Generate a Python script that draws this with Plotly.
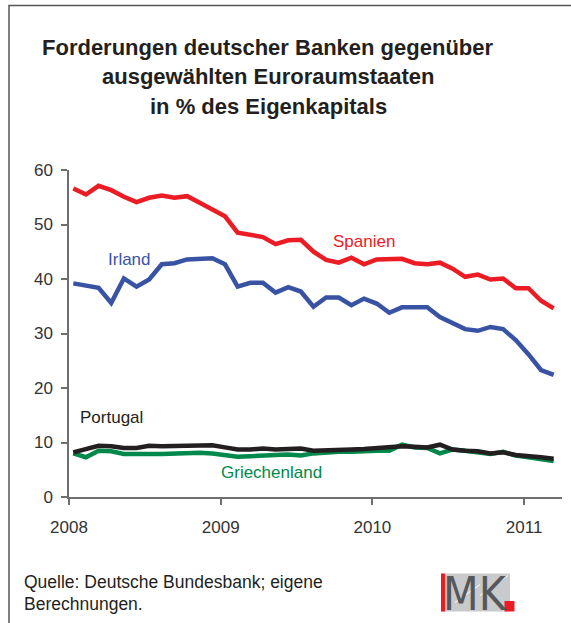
import plotly.graph_objects as go
import pandas as pd

# ---- data ----
monate = pd.date_range("2008-01-01", periods=39, freq="MS")
spanien = [56.6, 55.5, 57.1, 56.3, 55.1, 54.1, 54.9, 55.3, 54.9, 55.2, 54.0, 52.7, 51.5,
           48.5, 48.2, 47.7, 46.4, 47.1, 47.2, 45.0, 43.5, 43.0, 43.9, 42.7, 43.6, 43.7,
           43.7, 42.9, 42.7, 43.0, 41.9, 40.4, 40.8, 39.9, 40.1, 38.3, 38.3, 36.0, 34.6]
irland = [39.2, 38.9, 38.4, 35.6, 40.1, 38.6, 39.9, 42.7, 42.9, 43.6, 43.7, 43.8, 42.7,
          38.6, 39.3, 39.3, 37.5, 38.5, 37.7, 34.9, 36.6, 36.6, 35.2, 36.4, 35.5, 33.8,
          34.8, 34.8, 34.8, 33.0, 31.9, 30.8, 30.5, 31.2, 30.8, 28.8, 26.2, 23.3, 22.4]
portugal = [8.2, 8.8, 9.4, 9.3, 9.0, 9.0, 9.4, 9.3, 9.3, 9.3, 9.4, 9.5, 9.1,
            8.7, 8.7, 8.9, 8.7, 8.7, 8.9, 8.5, 8.5, 8.6, 8.7, 8.8, 9.0, 9.0,
            9.3, 9.2, 9.1, 9.6, 8.7, 8.5, 8.4, 8.0, 8.2, 7.7, 7.6, 7.3, 7.0]
griechenland = [8.0, 7.3, 8.5, 8.4, 7.9, 8.0, 7.9, 7.9, 8.0, 8.1, 8.1, 8.0, 7.8,
                7.4, 7.5, 7.7, 7.7, 7.8, 7.6, 8.0, 8.2, 8.3, 8.3, 8.5, 8.5, 8.5,
                9.6, 9.1, 9.0, 8.0, 8.7, 8.5, 8.3, 7.9, 8.3, 7.6, 7.3, 7.0, 6.6]
x_ticks = [2008, 2009, 2010, 2011]
x_ticklabels = ["2008", "2009", "2010", "2011"]
y_ticks = [0, 10, 20, 30, 40, 50, 60]

title_lines = ["Forderungen deutscher Banken gegenüber",
               "ausgewählten Euroraumstaaten",
               "in % des Eigenkapitals"]
source_lines = ["Quelle: Deutsche Bundesbank; eigene", "Berechnungen."]

# ---- styling ----
RED = "#ec1c24"
BLUE = "#3953a4"
BLACK = "#231f20"
GREEN = "#00894a"
FONT = "Liberation Sans, Arial, sans-serif"

W, H = 571, 623
L, R = 69, 562          # plot area pixels
T, B = 169.7, 497.3

def px(x):
    return (x - L) / (R - L)

def py(y):
    return (B - y) / (B - T)

xv = [d.year + (d.month - 1 + 0.34) / 12 for d in monate]

fig = go.Figure()
for vals, col in [(griechenland, GREEN), (portugal, BLACK), (irland, BLUE), (spanien, RED)]:
    fig.add_trace(go.Scatter(x=xv, y=vals, mode="lines",
                             line=dict(color=col, width=4.5), hoverinfo="skip",
                             showlegend=False))

annotations = []
for i, line in enumerate(title_lines):
    annotations.append(dict(text=f"<b>{line}</b>", x=px(268), y=py(47 + i * 29.5),
                            xref="paper", yref="paper", showarrow=False,
                            font=dict(family=FONT, size=22, color=BLACK),
                            xanchor="center", yanchor="middle"))
for i, line in enumerate(source_lines):
    annotations.append(dict(text=line, x=px(22), y=py(582 + i * 22),
                            xref="paper", yref="paper", showarrow=False,
                            font=dict(family=FONT, size=17.5, color=BLACK),
                            xanchor="left", yanchor="middle"))
labels = [("Irland", 129, 259, BLUE), ("Spanien", 364, 241, RED),
          ("Portugal", 111, 418, BLACK), ("Griechenland", 271, 473, GREEN)]
for txt, lx, ly, col in labels:
    annotations.append(dict(text=txt, x=px(lx), y=py(ly), xref="paper", yref="paper",
                            showarrow=False, font=dict(family=FONT, size=17, color=col),
                            xanchor="center", yanchor="middle"))
# logo text
annotations.append(dict(text="MK", x=px(475.5), y=py(594), xref="paper", yref="paper",
                        showarrow=False,
                        font=dict(family="Liberation Sans Narrow, DejaVu Sans Condensed, sans-serif",
                                  size=46, color="#55575b"),
                        xanchor="center", yanchor="middle"))

shapes = [
    # frame
    dict(type="rect", xref="paper", yref="paper", x0=px(9), x1=px(600), y0=py(650), y1=py(5),
         line=dict(color="#555555", width=1.5), fillcolor="rgba(0,0,0,0)", layer="below"),
    # logo background
    dict(type="rect", xref="paper", yref="paper", x0=px(441), x1=px(510), y0=py(612), y1=py(574),
         line=dict(width=0), fillcolor="#c9cacb", layer="below"),
    dict(type="line", xref="paper", yref="paper", x0=px(455), x1=px(480), y0=py(603), y1=py(585),
         line=dict(color="white", width=1)),
    dict(type="line", xref="paper", yref="paper", x0=px(480), x1=px(508), y0=py(596), y1=py(576),
         line=dict(color="white", width=1)),
    dict(type="rect", xref="paper", yref="paper", x0=px(441), x1=px(445), y0=py(612), y1=py(574),
         line=dict(width=0), fillcolor=RED),
    dict(type="rect", xref="paper", yref="paper", x0=px(504.5), x1=px(514.5), y0=py(612), y1=py(601.5),
         line=dict(width=0), fillcolor=RED),
]

fig.update_layout(
    width=W, height=H,
    margin=dict(l=L, r=W - R, t=T, b=H - B, pad=0),
    paper_bgcolor="white", plot_bgcolor="white",
    showlegend=False,
    annotations=annotations,
    shapes=shapes,
    xaxis=dict(range=[2008, 2011.25], tickmode="array", tickvals=x_ticks,
               ticktext=x_ticklabels, showgrid=False, zeroline=False,
               showline=True, linecolor="#6d6e70", linewidth=1.5,
               ticks="outside", ticklen=6, tickwidth=1.5, tickcolor="#6d6e70",
               tickfont=dict(family=FONT, size=17, color="#333333"),
               ticklabelstandoff=8, fixedrange=True),
    yaxis=dict(range=[0, 60], tickmode="array", tickvals=y_ticks, showgrid=False,
               zeroline=False, showline=True, linecolor="#6d6e70", linewidth=1.5,
               ticks="outside", ticklen=6, tickwidth=1.5, tickcolor="#6d6e70",
               tickfont=dict(family=FONT, size=17, color="#333333"),
               ticklabelstandoff=5, fixedrange=True),
)

fig.write_html("out.html", config={"displayModeBar": False},
               post_script="document.body.style.margin='0';document.body.style.padding='0';"
                           "document.body.style.overflow='hidden';")
